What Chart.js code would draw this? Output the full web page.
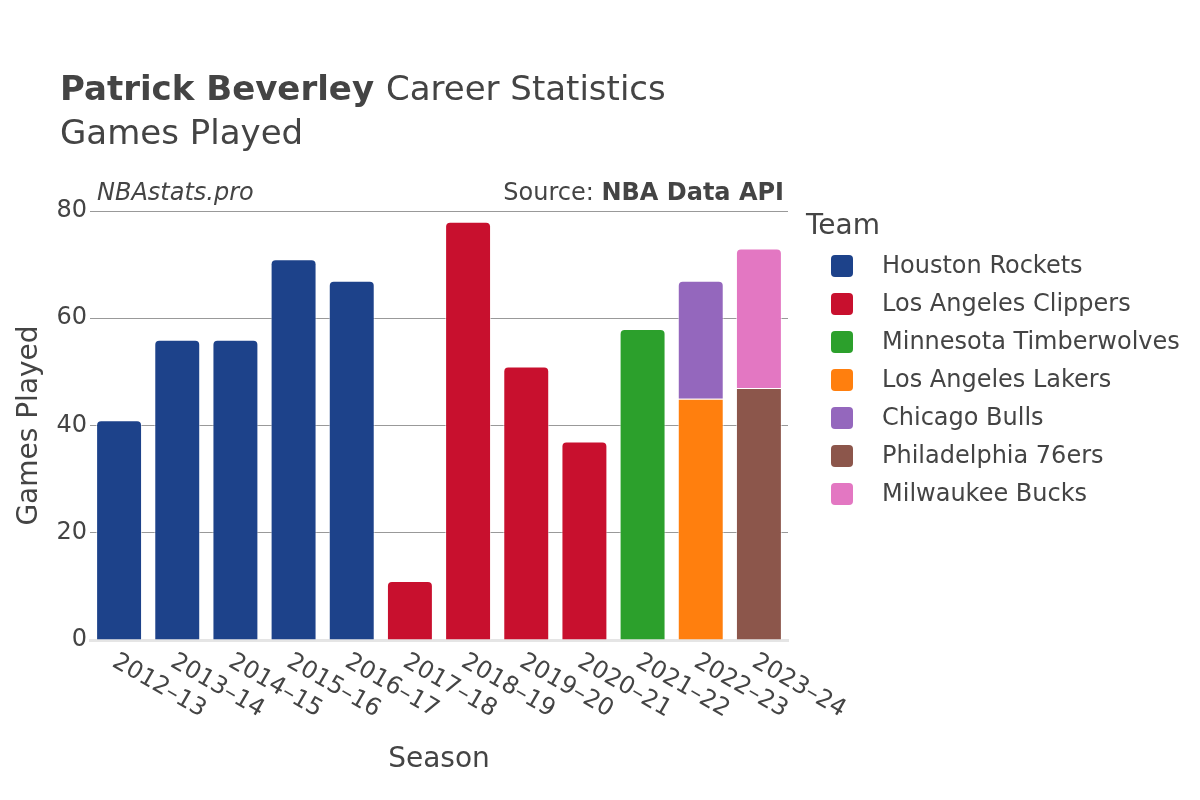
<!DOCTYPE html>
<html>
<head>
<meta charset="utf-8">
<script src="https://cdn.jsdelivr.net/npm/chart.js@4"></script>
<style>
  html, body { margin: 0; padding: 0; background: #fff; }
  #wrap { width: 1200px; height: 800px; position: relative; }
</style>
</head>
<body>
<div id="wrap"><canvas id="chart" width="1200" height="800"></canvas></div>
<script>
// ------------ Données ------------
const seasons = ["2012–13","2013–14","2014–15","2015–16","2016–17","2017–18","2018–19","2019–20","2020–21","2021–22","2022–23","2023–24"];
const teams = ["Houston Rockets","Los Angeles Clippers","Minnesota Timberwolves","Los Angeles Lakers","Chicago Bulls","Philadelphia 76ers","Milwaukee Bucks"];
const teamColors = ["#1d428a","#c8102e","#2ca02c","#ff7f0e","#9467bd","#8c564b","#e377c2"];
const rockets     = [41,56,56,71,67,null,null,null,null,null,null,null];
const clippers    = [null,null,null,null,null,11,78,51,37,null,null,null];
const wolves      = [null,null,null,null,null,null,null,null,null,58,null,null];
const lakers      = [null,null,null,null,null,null,null,null,null,null,45,null];
const bulls       = [null,null,null,null,null,null,null,null,null,null,22,null];
const sixers      = [null,null,null,null,null,null,null,null,null,null,null,47];
const bucks       = [null,null,null,null,null,null,null,null,null,null,null,26];
const yTicks = [0,20,40,60,80];

const FONT = "'DejaVu Sans', sans-serif";
const TXT = "#444";

const series = [rockets, clippers, wolves, lakers, bulls, sixers, bucks];

// ------------ Textes + légende dessinés à la main ------------
const decor = {
  id: "decor",
  afterDraw(chart) {
    const c = chart.ctx;
    const xs = chart.scales.x, ys = chart.scales.y;
    c.save();
    c.fillStyle = TXT;
    c.textBaseline = "alphabetic";
    // titre
    c.textAlign = "left";
    c.font = "bold 34px " + FONT;
    c.fillText("Patrick Beverley", 60, 100);
    const w = c.measureText("Patrick Beverley ").width;
    c.font = "34px " + FONT;
    c.fillText("Career Statistics", 60 + w, 100);
    c.fillText("Games Played", 60, 144);
    // sous-titres
    c.font = "italic 24px " + FONT;
    c.fillText("NBAstats.pro", 97, 200);
    c.textAlign = "right";
    c.font = "bold 24px " + FONT;
    c.fillText("NBA Data API", 784, 200);
    const wb = c.measureText("NBA Data API").width;
    c.font = "24px " + FONT;
    c.fillText("Source: ", 784 - wb, 200);
    // ticks x (rotation 30°)
    c.font = "24px " + FONT;
    c.textAlign = "left";
    c.textBaseline = "middle";
    seasons.forEach((s, i) => {
      const px = xs.getPixelForTick(i);
      c.save();
      c.translate(px - 5, 660);
      c.rotate(Math.PI / 6);
      c.fillText(s, 0, 0);
      c.restore();
    });
    // titres d'axes
    c.textAlign = "center";
    c.textBaseline = "middle";
    c.font = "28px " + FONT;
    c.fillText("Season", (xs.left + xs.right) / 2, 760);
    c.save();
    c.translate(30, (ys.top + ys.bottom) / 2);
    c.rotate(-Math.PI / 2);
    c.fillText("Games Played", 0, 0);
    c.restore();
    // légende
    c.textAlign = "left";
    c.font = "28px " + FONT;
    c.fillText("Team", 806, 227);
    c.font = "24px " + FONT;
    teams.forEach((t, i) => {
      const cy = 266 + i * 38;
      c.fillStyle = teamColors[i];
      c.beginPath();
      c.roundRect(831, cy - 11, 22, 22, 4);
      c.fill();
      c.fillStyle = TXT;
      c.fillText(t, 882, cy + 1);
    });
    c.restore();
  }
};

new Chart(document.getElementById("chart"), {
  type: "bar",
  data: {
    labels: seasons,
    datasets: teams.map((t, i) => ({
      label: t,
      data: series[i],
      backgroundColor: teamColors[i],
      borderColor: "rgba(255,255,255,0.6)",
      borderWidth: 1,
      borderRadius: 5,
      borderSkipped: "start",
      barPercentage: 0.79,
      categoryPercentage: 1
    }))
  },
  options: {
    responsive: false,
    animation: false,
    layout: { padding: { top: 211, right: 412, bottom: 0, left: 0 } },
    plugins: { legend: { display: false }, tooltip: { enabled: false } },
    scales: {
      x: {
        stacked: true,
        grid: { display: false, drawTicks: false },
        border: { display: true, color: "#e5e5e5", width: 3 },
        ticks: { display: false },
        afterFit(s) { s.height = 160; }
      },
      y: {
        stacked: true,
        min: 0, max: 80,
        afterBuildTicks(s) { s.ticks = yTicks.map(v => ({ value: v })); },
        grid: {
          color: (ctx) => ctx.tick && ctx.tick.value === 0 ? "rgba(0,0,0,0)" : "#999",
          lineWidth: 1,
          drawTicks: false
        },
        border: { display: false },
        ticks: { color: TXT, font: { family: FONT, size: 24 }, padding: 3 },
        afterFit(s) { s.width = 90; }
      }
    }
  },
  plugins: [decor]
});
</script>
</body>
</html>
